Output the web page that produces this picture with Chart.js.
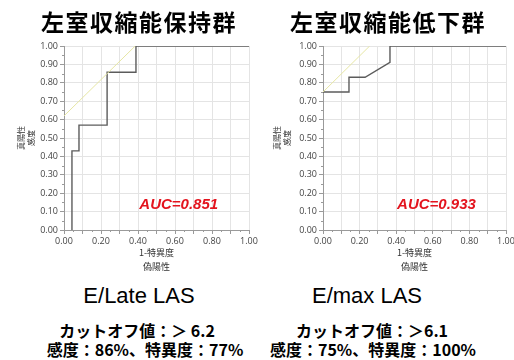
<!DOCTYPE html>
<html>
<head>
<meta charset="utf-8">
<script src="https://cdn.jsdelivr.net/npm/chart.js@4/dist/chart.umd.min.js"></script>
<style>
  html, body { margin: 0; padding: 0; background: #fff; }
  #page { position: relative; width: 514px; height: 360px; overflow: hidden; background: #fff; }
  canvas { position: absolute; top: 0; }
  .txt { position: absolute; transform: translate(-50%, -50%); white-space: nowrap; color: #000; }
  .title { font: bold 23px "Noto Sans CJK JP"; letter-spacing: 1.5px; }
  .marker { font: 22px "Liberation Sans", Arial, sans-serif; }
  .cut { font: bold 16px "Noto Sans CJK JP"; }
  .sens { font: bold 16px "Noto Sans CJK JP"; }
</style>
</head>
<body>
<div id="page">
  <canvas id="keepChart" width="259" height="280" style="left:0;width:259px;height:280px"></canvas>
  <canvas id="lowChart" width="255" height="280" style="left:259px;width:255px;height:280px"></canvas>

  <div class="txt title" style="left:139px;top:21px">左室収縮能保持群</div>
  <div class="txt title" style="left:388px;top:21px">左室収縮能低下群</div>

  <div class="txt marker" style="left:139px;top:296px">E/Late LAS</div>
  <div class="txt marker" style="left:367px;top:296px">E/max LAS</div>

  <div class="txt cut" style="left:137px;top:330px">カットオフ値：＞ 6.2</div>
  <div class="txt cut" style="left:372px;top:330px">カットオフ値：＞6.1</div>

  <div class="txt sens" style="left:145px;top:349px">感度：86%、特異度：77%</div>
  <div class="txt sens" style="left:373px;top:349px">感度：75%、特異度：100%</div>
</div>

<script>
// ROC curve, preserved LV systolic function group (1 - specificity vs sensitivity)
const keepFpr = [0.043, 0.043, 0.081, 0.081, 0.233, 0.233, 0.389, 0.389, 1.0];
const keepTpr = [0.0, 0.43, 0.43, 0.57, 0.57, 0.857, 0.857, 1.0, 1.0];
// tangent line at the optimal cutoff
const keepTangentX = [0.0, 0.385];
const keepTangentY = [0.62, 1.0];

// ROC curve, reduced LV systolic function group
const lowFpr = [0.0, 0.142, 0.142, 0.23, 0.366, 0.366, 1.0];
const lowTpr = [0.75, 0.75, 0.83, 0.83, 0.911, 1.0, 1.0];
const lowTangentX = [0.0, 0.255];
const lowTangentY = [0.75, 1.0];

// area under each curve
const aucValues = [0.851, 0.933];

// axis tick labels
const xTickLabels = ['0.00', '', '0.20', '', '0.40', '', '0.60', '', '0.80', '', '1.00'];
const yTickLabels = ['0.00', '0.10', '0.20', '0.30', '0.40', '0.50', '0.60', '0.70', '0.80', '0.90', '1.00'];

const toPoints = (xs, ys) => xs.map((x, i) => ({ x: x, y: ys[i] }));

// AUC annotation placed in data coordinates
const aucLabel = {
  id: 'aucLabel',
  afterDatasetsDraw(chart, args, opts) {
    const { ctx, scales } = chart;
    ctx.save();
    ctx.font = 'italic bold 15px "Liberation Sans", Arial, sans-serif';
    ctx.fillStyle = '#e3141e';
    ctx.textAlign = 'center';
    ctx.textBaseline = 'middle';
    ctx.fillText('AUC=' + opts.value.toFixed(3),
      scales.x.getPixelForValue(opts.at[0]),
      scales.y.getPixelForValue(opts.at[1]));
    ctx.restore();
  }
};

// short minor tick marks halfway between the major ticks
const minorTicks = {
  id: 'minorTicks',
  afterDraw(chart) {
    const { ctx, scales: { x, y } } = chart;
    ctx.save();
    ctx.strokeStyle = '#9a9a9a';
    ctx.lineWidth = 1;
    ctx.beginPath();
    for (let v = 0.05; v < 1; v += 0.1) {
      const px = Math.round(x.getPixelForValue(v)) + 0.5;
      ctx.moveTo(px, y.bottom);
      ctx.lineTo(px, y.bottom + 2);
      const py = Math.round(y.getPixelForValue(v)) + 0.5;
      ctx.moveTo(x.left - 2, py);
      ctx.lineTo(x.left, py);
    }
    ctx.stroke();
    ctx.restore();
  }
};

function makeChart(id, fpr, tpr, tx, ty, auc, padRight, yTitlePad) {
  return new Chart(document.getElementById(id), {
    type: 'scatter',
    data: {
      datasets: [
        {
          data: toPoints(tx, ty),
          showLine: true,
          borderColor: '#e6e6a4',
          borderWidth: 1,
          pointRadius: 0,
          tension: 0
        },
        {
          data: toPoints(fpr, tpr),
          showLine: true,
          borderColor: '#5c5c5c',
          borderWidth: 1.4,
          pointRadius: 0,
          tension: 0
        }
      ]
    },
    plugins: [aucLabel, minorTicks],
    options: {
      responsive: false,
      animation: false,
      devicePixelRatio: 1,
      layout: { padding: { top: 46, left: 0, right: padRight, bottom: 6 } },
      plugins: {
        legend: { display: false },
        tooltip: { enabled: false },
        aucLabel: { value: auc, at: [0.62, 0.137] }
      },
      scales: {
        x: {
          type: 'linear',
          min: 0,
          max: 1,
          afterFit(s) { s.height = 44; s.paddingLeft = 0; s.paddingRight = 0; },
          ticks: {
            stepSize: 0.1,
            autoSkip: false,
            maxRotation: 0,
            padding: 2,
            color: '#444',
            font: { family: '"Open Sans", "DejaVu Sans", sans-serif', size: 9 },
            callback: (v, i) => xTickLabels[i]
          },
          grid: { color: '#e4e4e4', tickColor: '#9a9a9a', tickLength: 4 },
          border: { color: '#9a9a9a' },
          title: {
            display: true,
            text: ['1-特異度', '偽陽性'],
            color: '#333',
            padding: { top: 0, bottom: 0 },
            font: { family: '"Noto Sans CJK JP"', size: 9, lineHeight: 14 / 9 }
          }
        },
        y: {
          type: 'linear',
          min: 0,
          max: 1,
          afterFit(s) { s.width = 64; s.paddingTop = 0; s.paddingBottom = 0; },
          ticks: {
            stepSize: 0.1,
            autoSkip: false,
            padding: 2,
            color: '#444',
            font: { family: '"Open Sans", "DejaVu Sans", sans-serif', size: 9 },
            callback: (v, i) => yTickLabels[i]
          },
          grid: { color: '#e4e4e4', tickColor: '#9a9a9a', tickLength: 4 },
          border: { color: '#9a9a9a' },
          title: {
            display: true,
            text: ['真陽性', '感度'],
            color: '#333',
            padding: { top: yTitlePad, bottom: 0 },
            font: { family: '"Noto Sans CJK JP"', size: 8, lineHeight: 1.25 }
          }
        }
      }
    }
  });
}

makeChart('keepChart', keepFpr, keepTpr, keepTangentX, keepTangentY, aucValues[0], 10, 16);
makeChart('lowChart', lowFpr, lowTpr, lowTangentX, lowTangentY, aucValues[1], 8, 13);
</script>
</body>
</html>
